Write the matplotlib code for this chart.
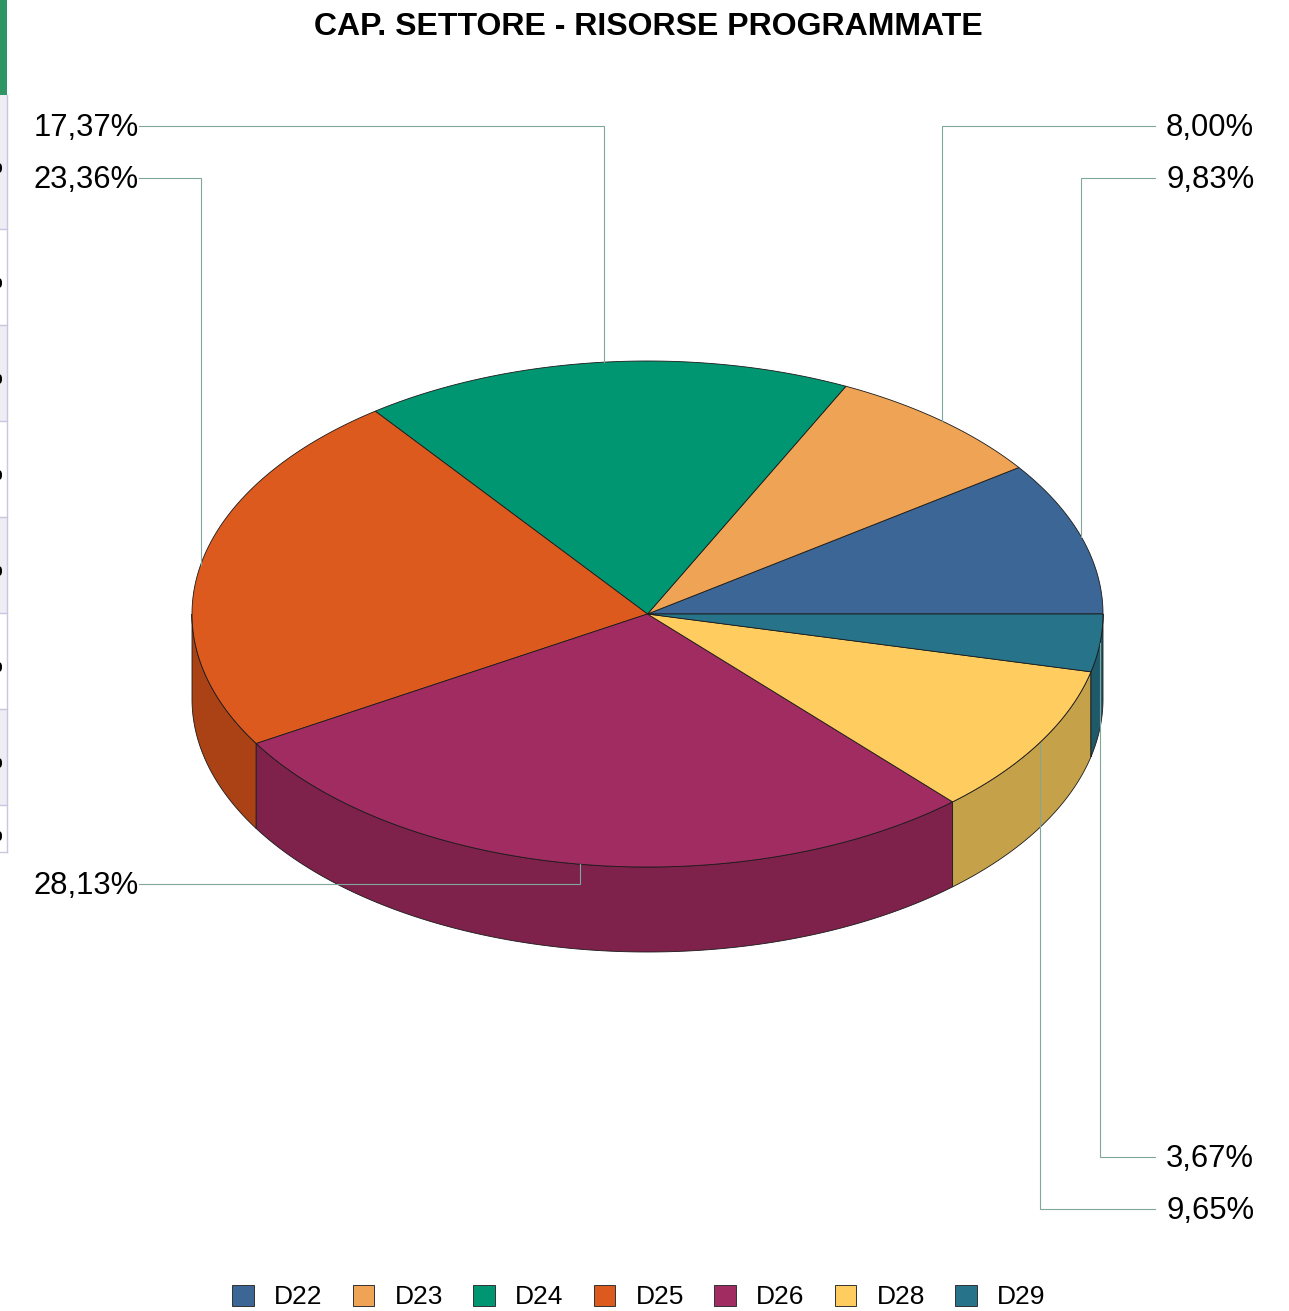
import numpy as np
import matplotlib
matplotlib.use("Agg")
import matplotlib.pyplot as plt
from matplotlib.patches import Polygon, Rectangle, Ellipse

categories = ["D22", "D23", "D24", "D25", "D26", "D28", "D29"]
values = [9.83, 8.00, 17.37, 23.36, 28.13, 9.65, 3.67]
top_colors = ["#3B6696", "#EFA354", "#009672", "#DD5A1E", "#A12C62", "#FFCD5F", "#27748A"]
side_colors = ["#2C4D71", "#B37A3F", "#007056", "#AB4215", "#7E224C", "#C5A14A", "#1F5A6B"]
label_y = [178, 126, 126, 178, 884, 1209, 1157]
label_side = ["r", "r", "l", "l", "l", "r", "r"]

plt.rcParams["font.family"] = ["Liberation Sans", "DejaVu Sans"]
W, H = 1289, 1311
fig = plt.figure(figsize=(W / 100, H / 100), dpi=100)
ax = fig.add_axes([0, 0, 1, 1])
ax.set_xlim(0, W)
ax.set_ylim(H, 0)
ax.axis("off")

# cropped spreadsheet remains at the left edge
ax.add_patch(Rectangle((0, 0), 7, 95, fc="#2E9565", ec="none", zorder=1))
for y0, y1 in [(95, 229), (325, 421), (517, 613), (709, 805)]:
    ax.add_patch(Rectangle((0, y0), 7, y1 - y0, fc="#EEEDF4", ec="none", zorder=1))
for y in [229, 325, 421, 517, 613, 709, 805, 852]:
    ax.plot([0, 7], [y, y], color="#C9C6DF", lw=1, zorder=2)
ax.plot([7, 7], [95, 852], color="#C9C6DF", lw=1, zorder=2)
for y in [168, 283, 379, 475, 571, 667, 763, 836]:
    ax.add_patch(Ellipse((0, y), 4, 9, fc="black", ec="none", zorder=2))

cx, cy, rx, ry, depth = 647.5, 614, 455.5, 253, 85


def rim(a):
    a = np.radians(a)
    return cx + rx * np.cos(a), cy - ry * np.sin(a)


fractions = np.array(values) / sum(values)
edges = np.concatenate([[0], np.cumsum(fractions) * 360])

# side walls of the front half
for i in range(len(values)):
    a0, a1 = max(edges[i], 180), min(edges[i + 1], 360)
    if a1 <= a0:
        continue
    t = np.linspace(a0, a1, 200)
    x, y = rim(t)
    pts = np.column_stack([np.r_[x, x[::-1]], np.r_[y, y[::-1] + depth]])
    ax.add_patch(Polygon(pts, closed=True, fc=side_colors[i], ec="#1a1a1a", lw=0.6, zorder=3))

# top face
for i in range(len(values)):
    t = np.linspace(edges[i], edges[i + 1], 200)
    x, y = rim(t)
    pts = np.column_stack([np.r_[cx, x], np.r_[cy, y]])
    ax.add_patch(Polygon(pts, closed=True, fc=top_colors[i], ec="#1a1a1a", lw=0.6, zorder=4))

# leader lines and percentage labels
for i, v in enumerate(values):
    mid = (edges[i] + edges[i + 1]) / 2
    x, y = rim(mid)
    x_end = 1155 if label_side[i] == "r" else 139
    ax.plot([x, x, x_end], [y, label_y[i], label_y[i]], color="#7FA79B", lw=0.8, zorder=5,
            solid_joinstyle="miter")
    txt = f"{v:.2f}%".replace(".", ",")
    if label_side[i] == "r":
        ax.text(1166, label_y[i] + 2, txt, fontsize=22.3, ha="left", va="center", zorder=6)
    else:
        ax.text(139, label_y[i] + 2, txt, fontsize=22.3, ha="right", va="center", zorder=6)

ax.text(648, 27, "CAP. SETTORE - RISORSE PROGRAMMATE", fontsize=23.0, fontweight="bold",
        ha="center", va="center", zorder=6)

# legend
for i, name in enumerate(categories):
    x0 = 232 + 120.5 * i
    ax.add_patch(Rectangle((x0, 1285), 21.5, 21, fc=top_colors[i], ec="#333333", lw=0.7, zorder=6))
    ax.text(x0 + 42, 1297, name, fontsize=19.0, ha="left", va="center", zorder=6)

fig.savefig("out.png", dpi=100)
